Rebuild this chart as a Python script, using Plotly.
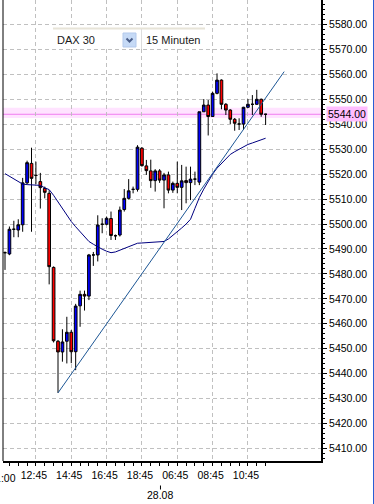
import plotly.graph_objects as go

# ---------------- data ----------------
bar_open = [5488.5, 5488.0, 5497.9, 5497.6, 5499.7, 5516.5, 5524.3, 5519.5, 5517.0, 5514.3,
            5512.3, 5482.6, 5453.0, 5448.7, 5453.0, 5456.6, 5448.8, 5467.2, 5471.8, 5471.1,
            5487.6, 5487.6, 5499.9, 5499.9, 5502.2, 5495.3, 5495.6, 5505.8, 5510.3, 5513.9,
            5513.9, 5530.4, 5523.3, 5521.3, 5517.4, 5521.3, 5517.6, 5519.7, 5513.6, 5516.3,
            5514.7, 5517.4, 5516.6, 5518.0, 5516.8, 5545.0, 5547.7, 5543.1, 5552.4, 5557.7,
            5548.0, 5545.7, 5542.0, 5540.1, 5540.1, 5546.8, 5548.0, 5548.0, 5550.0, 5544.0]
bar_high = [5489.0, 5499.0, 5501.3, 5501.9, 5518.5, 5525.4, 5530.6, 5525.0, 5520.5, 5515.0,
            5513.6, 5483.0, 5453.5, 5457.8, 5462.8, 5457.5, 5468.0, 5473.3, 5473.3, 5488.0,
            5488.8, 5503.5, 5502.3, 5503.0, 5505.0, 5495.8, 5507.0, 5514.0, 5518.0, 5515.0,
            5531.6, 5530.8, 5525.7, 5525.8, 5522.0, 5522.0, 5520.5, 5521.0, 5517.0, 5525.0,
            5523.7, 5523.0, 5523.0, 5521.0, 5545.0, 5550.1, 5549.7, 5553.0, 5560.4, 5558.0,
            5548.5, 5546.0, 5542.5, 5542.4, 5547.0, 5550.1, 5551.7, 5553.8, 5550.3, 5544.2]
bar_low = [5481.6, 5487.5, 5494.7, 5494.7, 5496.9, 5516.0, 5496.9, 5516.0, 5506.2, 5510.3,
           5475.8, 5452.5, 5432.3, 5444.8, 5444.1, 5444.2, 5441.4, 5458.8, 5465.3, 5469.5,
           5483.2, 5485.0, 5496.3, 5499.5, 5493.6, 5493.6, 5495.0, 5505.0, 5509.8, 5512.3,
           5513.0, 5523.0, 5519.7, 5514.5, 5513.0, 5516.5, 5506.3, 5512.3, 5512.5, 5512.3,
           5505.6, 5508.3, 5509.6, 5515.6, 5515.6, 5545.0, 5535.5, 5543.0, 5552.0, 5546.0,
           5543.7, 5540.1, 5537.4, 5537.7, 5537.7, 5546.5, 5543.7, 5547.8, 5543.0, 5539.7]
bar_close = [5488.5, 5497.9, 5497.9, 5499.7, 5516.5, 5524.6, 5518.3, 5519.5, 5514.6, 5512.7,
             5482.9, 5453.2, 5448.7, 5452.7, 5456.6, 5448.8, 5467.1, 5471.8, 5471.1, 5487.6,
             5487.6, 5499.6, 5499.9, 5502.3, 5495.4, 5495.3, 5505.6, 5510.3, 5513.3, 5513.9,
             5530.8, 5523.4, 5521.4, 5517.4, 5521.3, 5517.6, 5519.7, 5513.6, 5516.3, 5514.7,
             5517.3, 5516.6, 5518.0, 5518.0, 5545.0, 5547.7, 5543.1, 5552.4, 5557.7, 5548.0,
             5545.7, 5542.0, 5540.4, 5540.1, 5546.8, 5548.0, 5548.0, 5550.0, 5544.0, 5544.0]
ma_values = [5520.2, 5519.1, 5518.1, 5517.0, 5516.0, 5515.8, 5515.7, 5515.6, 5515.5, 5514.5,
             5513.8, 5511.5, 5508.9, 5506.1, 5503.5, 5501.0, 5498.9, 5496.8, 5494.7, 5493.0,
             5491.9, 5490.8, 5489.9, 5489.1, 5488.5, 5488.8, 5489.5, 5490.3, 5491.1, 5491.8,
             5492.3, 5492.4, 5492.5, 5492.5, 5492.5, 5492.7, 5493.0, 5494.0, 5495.4, 5497.0,
             5498.4, 5500.0, 5501.9, 5506.3, 5510.6, 5514.0, 5517.0, 5520.0, 5522.4, 5524.3,
             5526.3, 5527.9, 5529.0, 5530.0, 5531.1, 5531.9, 5532.5, 5533.2, 5533.8, 5534.4]
trend_index = [12, 63.2]
trend_value = [5432.3, 5561.1]
x_tick_index = [7, 15, 23, 31, 39, 47, 55]
x_tick_labels = ["12:45", "14:45", "16:45", "18:45", "06:45", "08:45", "10:45"]
clipped_tick_index = -1
clipped_tick_label = "11:00"
date_index = 35.2
date_label = "28.08"
price_ticks = list(range(5410, 5590, 10))
current_price = 5544.0
price_band = [5542.5, 5546.6]
symbol_name = "DAX 30"
period_name = "15 Minuten"

# ---------------- layout geometry ----------------
W, H = 374, 504
ML, MR, MT, MB = 3, 53, 0, 43
PW, PH = W - ML - MR, H - MT - MB
x_range = [-0.453, 71.54]
y_range = [5404.98, 5589.82]


def pxx(px):
    return (px - ML) / PW


def pxy(py):
    return 1 - (py - MT) / PH


FONT = "Liberation Sans, Arial, sans-serif"
idx = list(range(len(bar_open)))

fig = go.Figure()
fig.add_trace(go.Candlestick(
    x=idx, open=bar_open, high=bar_high, low=bar_low, close=bar_close,
    increasing=dict(line=dict(color="black", width=1), fillcolor="#0000ff"),
    decreasing=dict(line=dict(color="black", width=1), fillcolor="#ff0000"),
    whiskerwidth=0, showlegend=False, hoverinfo="skip"))
fig.add_trace(go.Scatter(x=idx, y=ma_values, mode="lines",
                         line=dict(color="#00007f", width=1), showlegend=False, hoverinfo="skip"))
fig.add_trace(go.Scatter(x=trend_index, y=trend_value, mode="lines",
                         line=dict(color="#1d5796", width=1), showlegend=False, hoverinfo="skip"))

shapes = [
    # current price band + line
    dict(type="rect", xref="paper", yref="y", x0=0, x1=1, y0=price_band[0], y1=price_band[1],
         fillcolor="#ffe3ff", line=dict(width=0), layer="below"),
    dict(type="line", xref="paper", yref="y", x0=0, x1=1, y0=current_price, y1=current_price,
         line=dict(color="#f07ef0", width=1), layer="between"),
    # left frame line
    dict(type="line", xref="paper", yref="paper", x0=0, x1=0, y0=0, y1=1,
         line=dict(color="black", width=1)),
    # right window border
    dict(type="line", xref="paper", yref="paper", x0=pxx(373.5), x1=pxx(373.5), y0=pxy(H), y1=pxy(0),
         line=dict(color="#2a5fd4", width=1)),
    # date marker tick
    dict(type="line", xref="x", yref="paper", x0=date_index, x1=date_index, y0=pxy(485.5), y1=pxy(489.5),
         line=dict(color="black", width=1)),
    # symbol selector widget
    dict(type="rect", xref="paper", yref="paper", x0=pxx(53), x1=pxx(205), y0=pxy(49), y1=pxy(28),
         fillcolor="white", line=dict(width=0), layer="above"),
    dict(type="line", xref="paper", yref="paper", x0=pxx(53), x1=pxx(205), y0=pxy(28.5), y1=pxy(28.5),
         line=dict(color="#e7e4d8", width=2), layer="above"),
    dict(type="line", xref="paper", yref="paper", x0=pxx(141.5), x1=pxx(141.5), y0=pxy(29), y1=pxy(49),
         line=dict(color="#dddddd", width=1), layer="above"),
    dict(type="rect", xref="paper", yref="paper", x0=pxx(123), x1=pxx(136), y0=pxy(47), y1=pxy(33),
         fillcolor="#c6daf6", line=dict(color="#b3c9ec", width=1), layer="above"),
    dict(type="path", xref="paper", yref="paper",
         path="M {:.5f},{:.5f} L {:.5f},{:.5f} L {:.5f},{:.5f}".format(
             pxx(126.5), pxy(38.5), pxx(129.5), pxy(41.5), pxx(132.5), pxy(38.5)),
         line=dict(color="#4b5f8a", width=2), layer="above"),
]

annotations = [
    dict(xref="paper", yref="paper", x=pxx(55), y=pxy(40), xanchor="left", yanchor="middle",
         text=symbol_name, showarrow=False, font=dict(family=FONT, size=11, color="#1a1a1a")),
    dict(xref="paper", yref="paper", x=pxx(144), y=pxy(40), xanchor="left", yanchor="middle",
         text=period_name, showarrow=False, font=dict(family=FONT, size=11, color="#1a1a1a")),
    dict(xref="paper", yref="y", x=1, y=current_price, xanchor="left", yanchor="middle", xshift=5,
         text=f"{current_price:.2f}", showarrow=False, bgcolor="#ffbdff", borderpad=1,
         font=dict(family=FONT, size=10.5, color="black")),
    dict(xref="paper", yref="paper",
         x=(clipped_tick_index - x_range[0]) / (x_range[1] - x_range[0]), y=pxy(478),
         xanchor="center", yanchor="middle", xshift=2, text=clipped_tick_label, showarrow=False,
         font=dict(family=FONT, size=10.5, color="black")),
    dict(xref="x", yref="paper", x=date_index, y=pxy(495), xanchor="center", yanchor="middle",
         text=date_label, showarrow=False, font=dict(family=FONT, size=10.5, color="black")),
]

fig.update_layout(
    width=W, height=H, margin=dict(l=ML, r=MR, t=MT, b=MB, pad=0),
    paper_bgcolor="white", plot_bgcolor="white",
    boxgap=0.2, boxgroupgap=0.24,
    shapes=shapes, annotations=annotations, showlegend=False,
    xaxis=dict(range=x_range, rangeslider=dict(visible=False), tickmode="array",
               tickvals=x_tick_index, ticktext=x_tick_labels, ticklabelshift=-2,
               showgrid=True, gridcolor="#c0c0c0", griddash="4px,3px", gridwidth=1,
               showline=True, linecolor="black", linewidth=2,
               ticks="outside", ticklen=3, tickcolor="black", tickwidth=1,
               minor=dict(tickmode="array", tickvals=list(range(1, 61, 2)), ticks="outside",
                          ticklen=3, tickcolor="black", showgrid=False),
               tickfont=dict(family=FONT, size=10.5, color="black"), zeroline=False, fixedrange=True),
    yaxis=dict(range=y_range, side="right", tickmode="array", tickvals=price_ticks,
               tickformat=".2f",
               showgrid=True, gridcolor="#c0c0c0", griddash="4px,3px", gridwidth=1,
               showline=True, linecolor="black", linewidth=2,
               ticks="outside", ticklen=4, tickcolor="black", tickwidth=1,
               minor=dict(dtick=2, tick0=5410, ticks="outside", ticklen=2, tickcolor="black",
                          showgrid=False),
               tickfont=dict(family=FONT, size=10.5, color="black"), zeroline=False, fixedrange=True),
)

fig.write_html("out.html", config={"displayModeBar": False},
               post_script="document.body.style.margin='0';document.body.style.overflow='hidden';")
